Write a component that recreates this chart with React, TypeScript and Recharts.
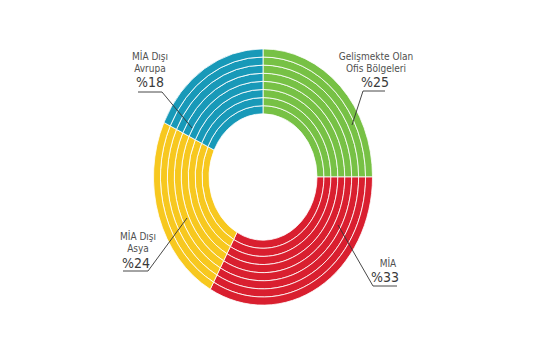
import React from 'react';
import { PieChart, Pie, Sector } from 'recharts';

// segment data
const SEGMENTS = ['Gelişmekte Olan Ofis Bölgeleri', 'MİA', 'MİA Dışı Asya', 'MİA Dışı Avrupa'];
const SHARES = [25, 33, 24, 18];
const LABEL_LINES = [['Gelişmekte Olan', 'Ofis Bölgeleri'], ['MİA'], ['MİA Dışı', 'Asya'], ['MİA Dışı', 'Avrupa']];
const PCT_LABELS = ['%25', '%33', '%24', '%18'];

const COLORS = ['#77c145', '#d91f2f', '#f7c81f', '#1899b8'];

const CX = 255;
const CY = 169;
const Y_STRETCH = 1.17;
const INNER = 54;
const OUTER = 109.5;
const RING_COUNT = 8;
const FONT = "'Liberation Sans Narrow', 'DejaVu Sans Condensed', 'Roboto', sans-serif";

// label placement relative to pie centre
const LABEL_LAYOUT = [
  { tx: 113, px: 112, ny: [-121, -109], py: -95, uy: -86, ux: [122, 100], end: [89, -52] },
  { tx: 125, px: 122, ny: [86], py: 100, uy: 109, ux: [134, 110], end: [75, 48] },
  { tx: -125, px: -127, ny: [59, 71], py: 86, uy: 94, ux: [-140, -115], end: [-76, 41] },
  { tx: -113, px: -113, ny: [-121, -109], py: -95, uy: -85, ux: [-125, -101], end: [-71, -49] },
];

const data = SEGMENTS.map((name, i) => ({ name, value: SHARES[i], fill: COLORS[i] }));

const EllipseSector = (props: any) => {
  const cy = props.cy ?? CY;
  return (
    <g transform={`translate(0 ${cy}) scale(1 ${Y_STRETCH}) translate(0 ${-cy})`}>
      <Sector {...props} />
    </g>
  );
};

const renderLabel = (props: any) => {
  const { index } = props;
  const cx = props.cx ?? CX;
  const cy = props.cy ?? CY;
  const l = LABEL_LAYOUT[index];
  if (!l) return null;
  const pts = [
    [cx + l.ux[0], cy + l.uy],
    [cx + l.ux[1], cy + l.uy],
    [cx + l.end[0], cy + l.end[1]],
  ]
    .map((p) => p.join(','))
    .join(' ');
  return (
    <g key={`lbl-${index}`}>
      {LABEL_LINES[index].map((t, j) => (
        <text
          key={j}
          x={cx + l.tx}
          y={cy + l.ny[j]}
          textAnchor="middle"
          dominantBaseline="central"
          fontFamily={FONT}
          fontSize={10}
          fill="#505050"
        >
          {t}
        </text>
      ))}
      <text
        x={cx + l.px}
        y={cy + l.py}
        textAnchor="middle"
        dominantBaseline="central"
        fontFamily={FONT}
        fontSize={14}
        fill="#3a3a3a"
      >
        {PCT_LABELS[index]}
      </text>
      <polyline points={pts} fill="none" stroke="#333" strokeWidth={0.9} />
    </g>
  );
};

export default function App() {
  const step = (OUTER - INNER) / RING_COUNT;
  const rings = Array.from({ length: RING_COUNT }, (_, i) => i);
  return (
    <PieChart width={547} height={347} margin={{ top: 0, right: 0, bottom: 0, left: 0 }}>
      {rings.map((i) => (
        <Pie
          key={i}
          data={data}
          dataKey="value"
          nameKey="name"
          cx={CX}
          cy={CY}
          innerRadius={INNER + step * i}
          outerRadius={INNER + step * (i + 1)}
          startAngle={90}
          endAngle={-270}
          stroke="#fff"
          strokeWidth={0.75}
          shape={EllipseSector}
          label={i === RING_COUNT - 1 ? renderLabel : false}
          labelLine={false}
          isAnimationActive={false}
        />
      ))}
    </PieChart>
  );
}
